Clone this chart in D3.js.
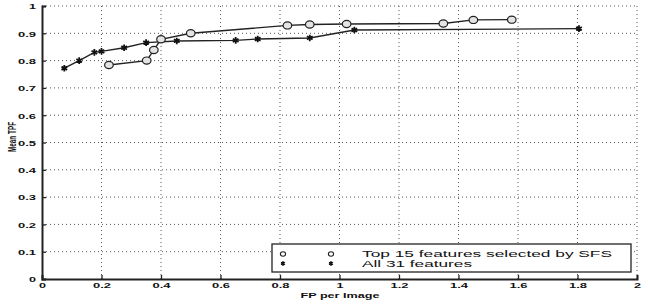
<!DOCTYPE html>
<html>
<head>
<meta charset="utf-8">
<script src="https://cdn.jsdelivr.net/npm/d3@7"></script>
<style>
  body { margin: 0; background: #fff; }
  svg text { font-family: "Liberation Sans", Arial, sans-serif; fill: #111; }
</style>
</head>
<body>
<script>
// data
var xTicks = [0, 0.2, 0.4, 0.6, 0.8, 1, 1.2, 1.4, 1.6, 1.8, 2];
var yTicks = [0, 0.1, 0.2, 0.3, 0.4, 0.5, 0.6, 0.7, 0.8, 0.9, 1];
var seriesNames = ["Top 15 features selected by SFS", "All 31 features"];

var sfsFP  = [0.225, 0.352, 0.376, 0.40, 0.50, 0.825, 0.90, 1.024, 1.349, 1.45, 1.579];
var sfsTPF = [0.784, 0.80, 0.839, 0.878, 0.90, 0.929, 0.932, 0.934, 0.936, 0.949, 0.95];

var allFP  = [0.075, 0.125, 0.176, 0.20, 0.276, 0.35, 0.453, 0.651, 0.725, 0.90, 1.05, 1.805];
var allTPF = [0.772, 0.80, 0.830, 0.834, 0.847, 0.866, 0.872, 0.874, 0.879, 0.883, 0.912, 0.917];

var width = 648, height = 305;

var svg = d3.select("body").append("svg")
  .attr("width", width)
  .attr("height", height);

var x = d3.scaleLinear().domain([0, 2]).range([42, 637]);
var y = d3.scaleLinear().domain([0, 1]).range([279, 6]);

// dotted grid
var grid = svg.append("g");
grid.selectAll("line.gx")
  .data(xTicks.filter(function(d){ return d > 0; }))
  .enter().append("line")
  .attr("class", "gx")
  .attr("x1", function(d){ return x(d); })
  .attr("x2", function(d){ return x(d); })
  .attr("y1", y(0))
  .attr("y2", y(1))
  .attr("stroke", "#555")
  .attr("stroke-width", 1)
  .attr("stroke-dasharray", "1,3");
grid.selectAll("line.gy")
  .data(yTicks.filter(function(d){ return d > 0; }))
  .enter().append("line")
  .attr("class", "gy")
  .attr("x1", x(0))
  .attr("x2", x(2))
  .attr("y1", function(d){ return y(d); })
  .attr("y2", function(d){ return y(d); })
  .attr("stroke", "#555")
  .attr("stroke-width", 1)
  .attr("stroke-dasharray", "1,3");

// axes (ticks point inward like matlab)
var xAxis = svg.append("g")
  .attr("transform", "translate(0," + y(0) + ")")
  .call(d3.axisBottom(x).tickValues(xTicks).tickSize(-4).tickPadding(3)
        .tickFormat(function(d){ return d === 0 || d === 1 || d === 2 ? d : d3.format(".1f")(d); }));
var yAxis = svg.append("g")
  .attr("transform", "translate(" + x(0) + ",0)")
  .call(d3.axisLeft(y).tickValues(yTicks).tickSize(-4).tickPadding(6)
        .tickFormat(function(d){ return d === 0 || d === 1 ? d : d3.format(".1f")(d); }));

[xAxis, yAxis].forEach(function(ax){
  ax.select(".domain").attr("stroke", "#222").attr("stroke-width", 2);
  ax.selectAll(".tick line").attr("stroke", "#222").attr("stroke-width", 1.3);
  ax.selectAll(".tick text")
    .attr("font-size", 8)
    .attr("font-weight", "bold")
    .attr("fill", "#111")
    .attr("lengthAdjust", "spacingAndGlyphs")
    .attr("textLength", function(d){ return String(this.textContent).length > 1 ? 18 : 7; });
});
xAxis.selectAll(".tick text").attr("dy", "0.71em");
yAxis.selectAll(".tick text").attr("dy", "0.35em");

// axis titles
svg.append("text")
  .attr("x", 340)
  .attr("y", 298)
  .attr("text-anchor", "middle")
  .attr("font-size", 8)
  .attr("font-weight", "bold")
  .attr("lengthAdjust", "spacingAndGlyphs")
  .attr("textLength", 79)
  .text("FP per Image");

svg.append("text")
  .attr("transform", "translate(16,137) rotate(-90)")
  .attr("text-anchor", "middle")
  .attr("font-size", 10)
  .attr("font-weight", "bold")
  .attr("lengthAdjust", "spacingAndGlyphs")
  .attr("textLength", 30)
  .text("Mean TPF");

// lines
var line = d3.line()
  .x(function(d){ return x(d[0]); })
  .y(function(d){ return y(d[1]); });

var sfsData = d3.zip(sfsFP, sfsTPF);
var allData = d3.zip(allFP, allTPF);

svg.append("path")
  .datum(allData)
  .attr("d", line)
  .attr("fill", "none")
  .attr("stroke", "#222")
  .attr("stroke-width", 1.4);

svg.append("path")
  .datum(sfsData)
  .attr("d", line)
  .attr("fill", "none")
  .attr("stroke", "#222")
  .attr("stroke-width", 1.4);

var star = d3.symbol().type(d3.symbolAsterisk).size(30);

svg.selectAll("path.star")
  .data(allData)
  .enter().append("path")
  .attr("class", "star")
  .attr("transform", function(d){ return "translate(" + x(d[0]) + "," + y(d[1]) + ")"; })
  .attr("d", star)
  .attr("fill", "none")
  .attr("stroke", "#111")
  .attr("stroke-width", 1.8);

svg.selectAll("ellipse.circ")
  .data(sfsData)
  .enter().append("ellipse")
  .attr("class", "circ")
  .attr("cx", function(d){ return x(d[0]); })
  .attr("cy", function(d){ return y(d[1]); })
  .attr("rx", 4.3)
  .attr("ry", 3.6)
  .attr("fill", "#e4e4e4")
  .attr("stroke", "#222")
  .attr("stroke-width", 1.2);

// legend
var legend = svg.append("g");
legend.append("rect")
  .attr("x", 272)
  .attr("y", 244)
  .attr("width", 359)
  .attr("height", 28)
  .attr("fill", "#fff")
  .attr("stroke", "#222")
  .attr("stroke-width", 1.3);

var rowY = [254, 263.5];
var textLen = [250, 110];

seriesNames.forEach(function(name, i){
  [283, 331].forEach(function(px){
    if (i === 0) {
      legend.append("ellipse")
        .attr("cx", px).attr("cy", rowY[i])
        .attr("rx", 2.6).attr("ry", 2.2)
        .attr("fill", "#fff")
        .attr("stroke", "#222")
        .attr("stroke-width", 1.1);
    } else {
      legend.append("path")
        .attr("transform", "translate(" + px + "," + rowY[i] + ")")
        .attr("d", d3.symbol().type(d3.symbolAsterisk).size(14))
        .attr("fill", "none")
        .attr("stroke", "#111")
        .attr("stroke-width", 1.6);
    }
  });
  legend.append("text")
    .attr("x", 362)
    .attr("y", rowY[i] + 3.2)
    .attr("font-size", 8.5)
    .attr("lengthAdjust", "spacingAndGlyphs")
    .attr("textLength", textLen[i])
    .text(name);
});
</script>
</body>
</html>
